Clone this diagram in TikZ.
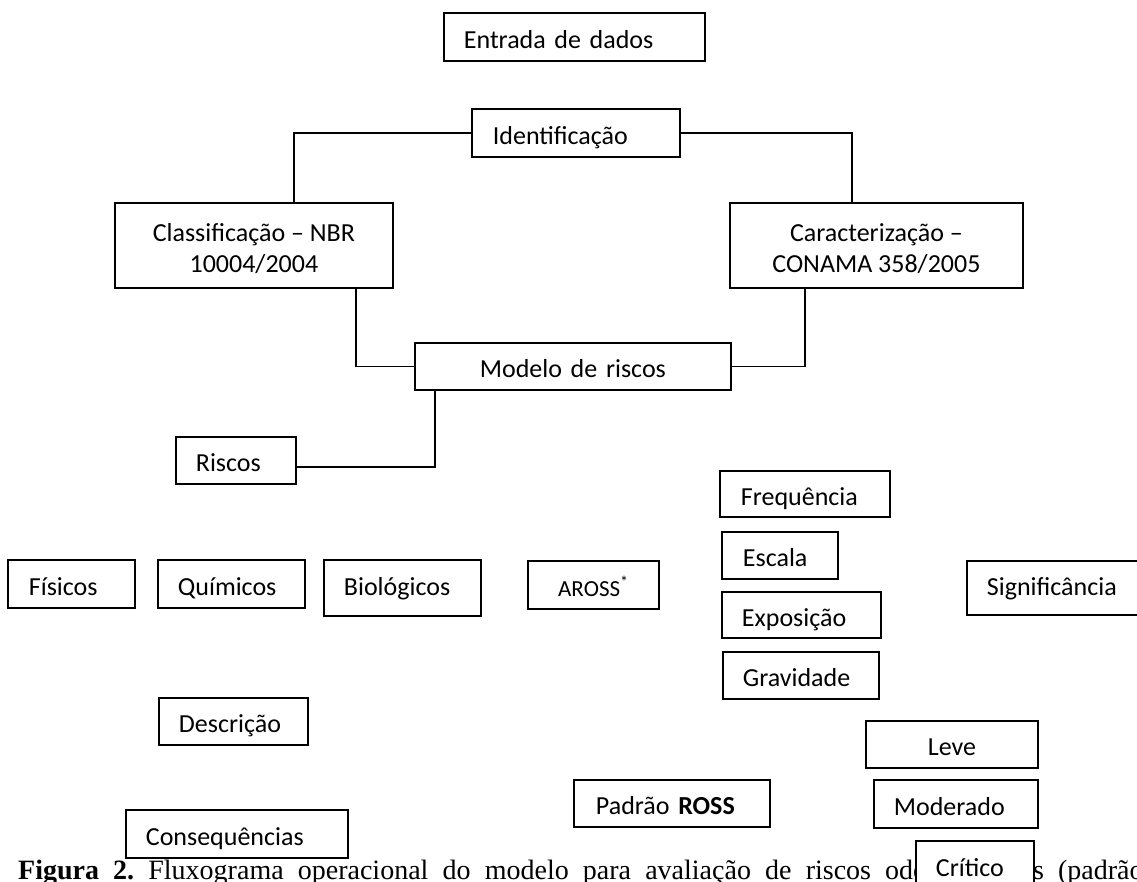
\documentclass[tikz,border=0pt]{standalone}
\usepackage{fontspec}
\setmainfont{Carlito}
\newfontfamily\capfont{Liberation Serif}
\begin{document}
\begin{tikzpicture}[x=1pt,y=-1pt,
  bx/.style={draw, line width=1.8pt, fill=white, anchor=north west, inner ysep=0pt,
    font=\fontsize{26}{31}\selectfont, text height=23pt, text depth=0pt},
  lb/.style={bx, align=left},
  cb/.style={bx, align=center, inner xsep=0pt},
  cb2/.style={draw, line width=1.8pt, fill=white, anchor=north west, inner sep=0pt,
    font=\fontsize{26}{31}\selectfont, align=center},
  conn/.style={line width=1.8pt}]
\useasboundingbox (0,0) rectangle (1137,881);

% caption (partly hidden behind the box "Crítico")
\node[anchor=base west, inner sep=0pt, font=\capfont\fontsize{28}{33}\selectfont] (caption) at (18,879)
  {\frenchspacing\makebox[1125.3pt][s]{\textbf{Figura 2.} Fluxograma operacional do modelo para avaliação de riscos odontológicos (padrão}};

\node[lb, minimum width=261pt, minimum height=48pt, text width=221pt, inner xsep=20pt] (entrada) at (443,12) {Entrada de dados};
\node[lb, minimum width=208pt, minimum height=48pt, text width=166pt, inner xsep=21pt] (ident) at (471,108) {Identificação};
\node[cb2, minimum width=278pt, minimum height=85pt] (class) at (114,202)
  {\rule{0pt}{31pt}Classificação – NBR\\10004/2004\rule[-8pt]{0pt}{8pt}};
\node[cb2, minimum width=293pt, minimum height=85pt] (caract) at (729,202)
  {\rule{0pt}{31pt}Caracterização –\\CONAMA 358/2005\rule[-8pt]{0pt}{8pt}};
\node[cb, minimum width=316pt, minimum height=47pt, text width=316pt] (modelo) at (414,342) {Modelo de riscos};
\node[lb, minimum width=120pt, minimum height=47pt, text width=80pt, inner xsep=20pt] (riscos) at (175,436) {Riscos};

\node[lb, minimum width=170pt, minimum height=46pt, text width=128pt, inner xsep=21pt] (freq) at (719,470) {Frequência};
\node[lb, minimum width=116pt, minimum height=47pt, text width=74pt, inner xsep=21pt] (escala) at (721,531) {Escala};
\node[lb, minimum width=159pt, minimum height=46pt, text width=119pt, inner xsep=20pt] (expos) at (721,591) {Exposição};
\node[lb, minimum width=156pt, minimum height=47pt, text width=116pt, inner xsep=20pt] (grav) at (722,651) {Gravidade};

\node[lb, minimum width=127pt, minimum height=48pt, text width=85pt, inner xsep=21pt] (fisicos) at (7,559) {Físicos};
\node[lb, minimum width=147pt, minimum height=48pt, text width=107pt, inner xsep=20pt] (quimicos) at (157,559) {Químicos};
\node[lb, minimum width=157pt, minimum height=56pt, text width=117pt, inner xsep=20pt, text depth=8pt] (biolog) at (323,559) {Biológicos};
\node[cb, minimum width=131pt, minimum height=48pt, text width=131pt, font=\fontsize{23}{28}\selectfont] (aross) at (527,560) {AROSS\textsuperscript{*}};
\node[lb, minimum width=180pt, minimum height=54pt, text width=140pt, inner xsep=20pt, text depth=7pt] (signif) at (966,560) {Significância};

\node[lb, minimum width=149pt, minimum height=47pt, text width=109pt, inner xsep=20pt] (descr) at (158,697) {Descrição};
\node[cb, minimum width=172pt, minimum height=47pt, text width=172pt] (leve) at (865,720) {Leve};
\node[lb, minimum width=164pt, minimum height=48pt, text width=124pt, inner xsep=20pt] (moder) at (873,779) {Moderado};
\node[lb, minimum width=196pt, minimum height=47pt, text width=152pt, inner xsep=22pt] (padrao) at (573,779) {Padrão \textbf{ROSS}};
\node[lb, minimum width=222pt, minimum height=48pt, text width=182pt, inner xsep=20pt] (conseq) at (125,809) {Consequências};
\node[lb, minimum width=118pt, minimum height=48pt, text width=78pt, inner xsep=20pt] (critico) at (915,840) {Crítico};

% connectors
\draw[conn] (ident.west) -| ([xshift=40pt]class.north);
\draw[conn] (ident.east) -| ([xshift=-24.5pt]caract.north);
\draw[conn] ([xshift=102pt]class.south) |- (modelo.west);
\draw[conn] ([xshift=-71.5pt]caract.south) |- (modelo.east);
\draw[conn] ([xshift=-138pt]modelo.south) |- ([yshift=-6.5pt]riscos.east);
\end{tikzpicture}
\end{document}
